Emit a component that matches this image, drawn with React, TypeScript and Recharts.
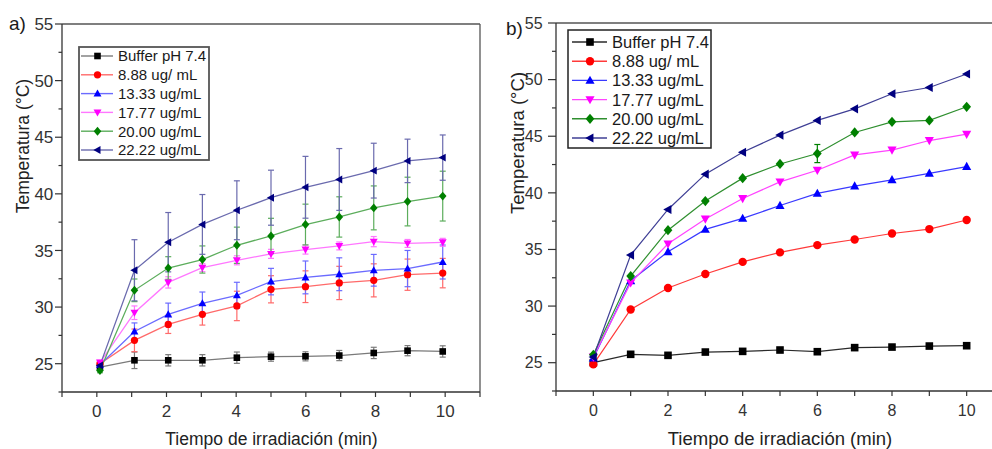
import React from 'react';
import { LineChart, Line, XAxis, YAxis, ErrorBar, ReferenceLine } from 'recharts';

const FONT = '"Liberation Sans", Arial, Helvetica, sans-serif';

// ---------- shared series info ----------
const seriesNames = ['Buffer pH 7.4', '8.88 ug/ mL', '13.33 ug/mL', '17.77 ug/mL', '20.00 ug/mL', '22.22 ug/mL'];
const seriesKeys = ['buffer', 'c888', 'c1333', 'c1777', 'c2000', 'c2222'];
const markerColors = ['#000000', '#ff0000', '#0000ff', '#ff00ff', '#008000', '#000080'];
const shapes = ['square', 'circle', 'triUp', 'triDown', 'diamond', 'triLeft'];
const lineColorsA = ['#7a7a7a', '#ff6a6a', '#6b6bff', '#ff77ff', '#5cad5c', '#6a6aae'];
const lineColorsB = ['#2a2a2a', '#ff3a3a', '#3a3aff', '#ff44ff', '#2f8f2f', '#3f3f95'];

const xTicks = [-1, 0, 1, 2, 3, 4, 5, 6, 7, 8, 9, 10, 11];
const yTicks = [22.5, 25, 27.5, 30, 32.5, 35, 37.5, 40, 42.5, 45, 47.5, 50, 52.5, 55];

// ---------- panel a ----------
const timeA = [0.09, 1.08, 2.05, 3.03, 4.02, 5.0, 5.99, 6.96, 7.95, 8.92, 9.93];
const bufferA = [24.7, 25.3, 25.3, 25.3, 25.53, 25.62, 25.65, 25.72, 25.95, 26.15, 26.08];
const bufferErrA = [0.3, 0.73, 0.5, 0.5, 0.5, 0.4, 0.4, 0.45, 0.5, 0.45, 0.5];
const c888A = [25.0, 27.06, 28.47, 29.36, 30.1, 31.57, 31.8, 32.13, 32.36, 32.86, 33.0];
const c888ErrA = [0.2, 1.0, 0.8, 0.95, 1.3, 1.2, 1.4, 1.47, 1.46, 1.38, 1.3];
const c1333A = [24.9, 27.85, 29.35, 30.33, 31.04, 32.25, 32.62, 32.9, 33.25, 33.4, 33.98];
const c1333ErrA = [0.2, 0.75, 1.0, 1.0, 1.15, 1.17, 1.45, 1.45, 1.4, 1.6, 1.5];
const c1777A = [25.1, 29.5, 32.18, 33.48, 34.13, 34.7, 35.08, 35.4, 35.78, 35.62, 35.72];
const c1777ErrA = [0.2, 0.6, 0.5, 0.35, 0.4, 0.4, 0.4, 0.35, 0.45, 0.35, 0.35];
const c2000A = [24.4, 31.48, 33.45, 34.2, 35.46, 36.28, 37.29, 37.96, 38.76, 39.32, 39.8];
const c2000ErrA = [0.2, 1.0, 1.0, 1.2, 1.6, 1.56, 1.8, 1.78, 1.94, 2.15, 2.2];
const c2222A = [24.85, 33.25, 35.73, 37.3, 38.55, 39.66, 40.58, 41.27, 42.05, 42.91, 43.2];
const c2222ErrA = [0.2, 2.7, 2.62, 2.64, 2.6, 2.43, 2.73, 2.73, 2.42, 1.92, 2.0];

// ---------- panel b ----------
const timeB = [0, 1, 2, 3, 4, 5, 6, 7, 8, 9, 10];
const bufferB = [25.0, 25.74, 25.65, 25.94, 26.0, 26.12, 25.97, 26.33, 26.38, 26.47, 26.5];
const c888B = [24.85, 29.7, 31.6, 32.83, 33.9, 34.74, 35.38, 35.88, 36.41, 36.8, 37.6];
const c1333B = [25.4, 32.24, 34.8, 36.77, 37.74, 38.88, 39.95, 40.6, 41.15, 41.72, 42.32];
const c1777B = [25.5, 32.05, 35.5, 37.7, 39.5, 40.97, 42.0, 43.35, 43.78, 44.62, 45.18];
const c2000B = [25.7, 32.65, 36.7, 39.27, 41.3, 42.55, 43.47, 45.33, 46.27, 46.4, 47.6];
const c2000ErrB = [0, 0, 0, 0, 0, 0, 0.8, 0, 0, 0, 0];
const c2222B = [25.5, 34.5, 38.53, 41.65, 43.58, 45.1, 46.4, 47.42, 48.75, 49.3, 50.5];

const valuesA = [bufferA, c888A, c1333A, c1777A, c2000A, c2222A];
const errsA = [bufferErrA, c888ErrA, c1333ErrA, c1777ErrA, c2000ErrA, c2222ErrA];
const valuesB = [bufferB, c888B, c1333B, c1777B, c2000B, c2222B];

const rowsA = timeA.map((t, i) => {
  const r: any = { t };
  seriesKeys.forEach((k, s) => {
    r[k] = valuesA[s][i];
    r[k + '_err'] = errsA[s][i];
  });
  return r;
});
const rowsB = timeB.map((t, i) => {
  const r: any = { t };
  seriesKeys.forEach((k, s) => {
    r[k] = valuesB[s][i];
  });
  r['c2000_err'] = c2000ErrB[i];
  return r;
});

const AXIS = '#333333';

function Marker({ cx, cy, shape, color, r }: any) {
  if (cx == null || cy == null) return null;
  switch (shape) {
    case 'square':
      return <rect x={cx - r} y={cy - r} width={2 * r} height={2 * r} fill={color} />;
    case 'circle':
      return <circle cx={cx} cy={cy} r={r * 1.1} fill={color} />;
    case 'triUp':
      return <polygon points={`${cx},${cy - r * 1.25} ${cx + r * 1.2},${cy + r * 0.9} ${cx - r * 1.2},${cy + r * 0.9}`} fill={color} />;
    case 'triDown':
      return <polygon points={`${cx},${cy + r * 1.25} ${cx + r * 1.2},${cy - r * 0.9} ${cx - r * 1.2},${cy - r * 0.9}`} fill={color} />;
    case 'diamond':
      return <polygon points={`${cx},${cy - r * 1.35} ${cx + r * 1.15},${cy} ${cx},${cy + r * 1.35} ${cx - r * 1.15},${cy}`} fill={color} />;
    case 'triLeft':
      return <polygon points={`${cx - r * 1.25},${cy} ${cx + r * 0.9},${cy - r * 1.2} ${cx + r * 0.9},${cy + r * 1.2}`} fill={color} />;
    default:
      return null;
  }
}

const makeXTick = (len: number, labelDy: number, fontSize: number) => (props: any) => {
  const { x, y, payload } = props;
  const v = payload.value;
  const show = v >= 0 && v <= 10 && v % 2 === 0;
  return (
    <g>
      <line x1={x} x2={x} y1={y} y2={y + len} stroke={AXIS} strokeWidth={1.2} />
      {show && (
        <text x={x} y={y + labelDy} textAnchor="middle" fontSize={fontSize} fill="#333" fontFamily={FONT}>
          {v}
        </text>
      )}
    </g>
  );
};

const makeYTick = (majorLen: number, minorLen: number, gap: number, fontSize: number) => (props: any) => {
  const { x, y, payload } = props;
  const v = payload.value;
  const isMajor = Math.abs(v % 5) < 1e-6;
  return (
    <g>
      <line x1={x - (isMajor ? majorLen : minorLen)} x2={x} y1={y} y2={y} stroke={AXIS} strokeWidth={1.2} />
      {isMajor && (
        <text x={x - gap} y={y} dy="0.36em" textAnchor="end" fontSize={fontSize} fill="#333" fontFamily={FONT}>
          {v}
        </text>
      )}
    </g>
  );
};

function Panel({ rows, lineColors, r, withErr, greenErrOnly, xTick, yTick, margin, width, frameRight, lineW }: any) {
  return (
    <LineChart width={width} height={449} data={rows} margin={margin}>
      <XAxis
        dataKey="t"
        type="number"
        domain={[-1, 11]}
        ticks={xTicks}
        interval={0}
        allowDataOverflow
        height={30}
        tickSize={0}
        tickMargin={0}
        tickLine={false}
        tick={xTick}
        axisLine={{ stroke: AXIS, strokeWidth: 1.3 }}
      />
      <YAxis
        type="number"
        domain={[22.5, 55]}
        ticks={yTicks}
        interval={0}
        allowDataOverflow
        width={40}
        tickSize={0}
        tickMargin={0}
        tickLine={false}
        tick={yTick}
        axisLine={{ stroke: AXIS, strokeWidth: 1.3 }}
      />
      <ReferenceLine y={55} stroke="#555" strokeWidth={1.3} />
      {frameRight && <ReferenceLine x={11} stroke="#555" strokeWidth={1.3} />}
      {seriesKeys.map((k, s) => (
        <Line
          key={k}
          dataKey={k}
          type="linear"
          stroke={lineColors[s]}
          strokeWidth={lineW}
          isAnimationActive={false}
          activeDot={false}
          dot={(p: any) => (
            <Marker key={`${k}-${p.index}`} cx={p.cx} cy={p.cy} shape={shapes[s]} color={markerColors[s]} r={r} />
          )}
        >
          {(withErr || (greenErrOnly && k === 'c2000')) && (
            <ErrorBar
              dataKey={k + '_err'}
              width={3}
              stroke={withErr ? lineColors[s] : markerColors[s]}
              strokeWidth={1.2}
              direction="y"
              isAnimationActive={false}
            />
          )}
        </Line>
      ))}
    </LineChart>
  );
}

function LegendBox({ x, y, w, h, firstY, rowH, lx1, lx2, mx, tx, fontSize, lineColors, r, stroke, sw }: any) {
  return (
    <g>
      <rect x={x} y={y} width={w} height={h} fill="#fff" stroke={stroke} strokeWidth={sw} />
      {seriesNames.map((name, s) => {
        const cy = firstY + s * rowH;
        return (
          <g key={name}>
            <line x1={lx1} x2={lx2} y1={cy} y2={cy} stroke={lineColors[s]} strokeWidth={1.4} />
            <Marker cx={mx} cy={cy} shape={shapes[s]} color={markerColors[s]} r={r} />
            <text x={tx} y={cy} dy="0.36em" fontSize={fontSize} fill="#1a1a1a" fontFamily={FONT}>
              {name}
            </text>
          </g>
        );
      })}
    </g>
  );
}

export default function App() {
  const xTickA = makeXTick(5, 24.5, 17);
  const yTickA = makeYTick(7, 3.5, 8.7, 17);
  const xTickB = makeXTick(5, 24.5, 16);
  const yTickB = makeYTick(8, 4, 13.4, 16);
  return (
    <div
      style={{
        position: 'absolute',
        left: 0,
        top: 0,
        width: 992,
        height: 449,
        overflow: 'hidden',
        background: '#fff',
        fontFamily: FONT,
      }}
    >
      <div style={{ position: 'absolute', left: 0, top: 0 }}>
        <Panel
          rows={rowsA}
          lineColors={lineColorsA}
          r={3.3}
          withErr
          xTick={xTickA}
          yTick={yTickA}
          width={500}
          margin={{ top: 24, right: 20, bottom: 27, left: 22 }}
          frameRight
          lineW={1.3}
        />
      </div>
      <div style={{ position: 'absolute', left: 500, top: 0 }}>
        <Panel
          rows={rowsB}
          lineColors={lineColorsB}
          r={3.8}
          greenErrOnly
          xTick={xTickB}
          yTick={yTickB}
          width={520}
          margin={{ top: 23, right: 16, bottom: 28, left: 16 }}
          frameRight={false}
          lineW={1.2}
        />
      </div>
      <svg
        width={992}
        height={449}
        style={{ position: 'absolute', left: 0, top: 0, pointerEvents: 'none' }}
      >
        <text x={9} y={30} fontSize={19} fill="#1a1a1a" fontFamily={FONT}>a)</text>
        <text x={506} y={35} fontSize={19} fill="#1a1a1a" fontFamily={FONT}>b)</text>
        <text transform="translate(28.5,146) rotate(-90)" textAnchor="middle" fontSize={17.5} fill="#222" fontFamily={FONT}>
          Temperatura (°C)
        </text>
        <text transform="translate(523.5,143) rotate(-90)" textAnchor="middle" fontSize={18.5} fill="#222" fontFamily={FONT}>
          Temperatura (°C)
        </text>
        <text x={271.5} y={445} textAnchor="middle" fontSize={17.5} fill="#222" fontFamily={FONT}>
          Tiempo de irradiación (min)
        </text>
        <text x={780} y={445} textAnchor="middle" fontSize={18.5} fill="#222" fontFamily={FONT}>
          Tiempo de irradiación (min)
        </text>
        <LegendBox
          x={79} y={47} w={130} h={113}
          firstY={56} rowH={18.8}
          lx1={81} lx2={113} mx={97.5} tx={118}
          fontSize={15}
          lineColors={lineColorsA}
          r={3.3}
          stroke="#555" sw={1.8}
        />
        <LegendBox
          x={568} y={30} w={143} h={118}
          firstY={42} rowH={19.2}
          lx1={572} lx2={607} mx={590} tx={612}
          fontSize={16.5}
          lineColors={lineColorsB}
          r={3.8}
          stroke="#222" sw={1.5}
        />
      </svg>
    </div>
  );
}
